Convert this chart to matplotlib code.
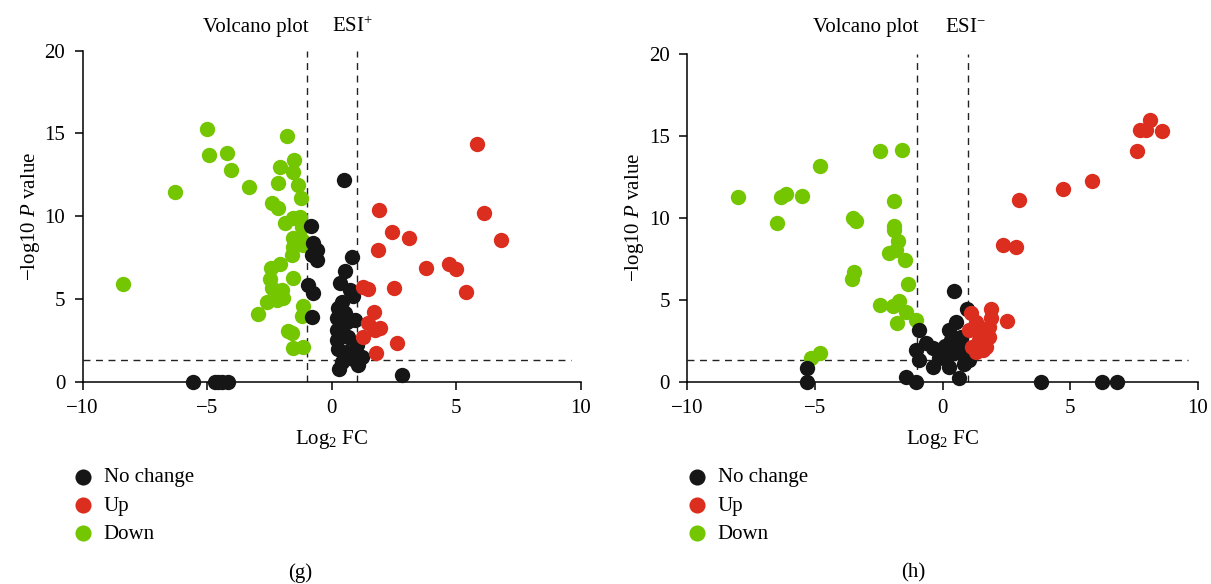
import matplotlib
matplotlib.use("Agg")
import matplotlib.pyplot as plt

plt.rcParams['font.family'] = ['Liberation Serif', 'DejaVu Serif']
plt.rcParams['mathtext.fontset'] = 'custom'
plt.rcParams['mathtext.rm'] = 'Liberation Serif'
plt.rcParams['mathtext.it'] = 'Liberation Serif:italic'
plt.rcParams['font.size'] = 15

# ---- (g) ESI+ ----
g_none_x = [-0.84, -0.74, -0.60, -0.80, -0.60, -0.94, -0.74, -0.80, 0.49, 0.80, 0.53, 0.33, 0.73,
            0.87, 0.40, 0.27, 0.53, 0.20, 0.94, 0.60, 0.20, 0.47, 0.67, 0.20, 1.00, 0.27, 0.60,
            1.20, 0.87, 1.07, 0.31, 2.81, -5.58, -4.69, -4.55, -4.42, -4.15, 0.40, 0.70]
g_none_y = [9.40, 8.36, 7.95, 7.65, 7.35, 5.84, 5.34, 3.93, 12.18, 7.51, 6.70, 5.98, 5.54,
            5.18, 4.83, 4.43, 4.13, 3.83, 3.73, 3.62, 3.12, 2.92, 2.72, 2.52, 2.22, 1.96, 1.81,
            1.51, 1.35, 1.01, 0.75, 0.38, 0, 0, 0, 0, 0, 1.20, 1.60]
g_up_x = [5.85, 1.90, 6.12, 2.43, 3.09, 6.80, 1.85, 3.78, 4.71, 4.98, 5.38, 2.51, 1.24, 1.47,
          1.71, 1.47, 1.94, 1.74, 1.27, 2.61, 1.78]
g_up_y = [14.34, 10.37, 10.21, 9.06, 8.70, 8.54, 7.97, 6.88, 7.11, 6.79, 5.40, 5.68, 5.70, 5.60,
          4.23, 3.53, 3.22, 3.12, 2.68, 2.36, 1.71]
g_down_x = [-5.02, -4.92, -4.22, -4.04, -1.81, -6.29, -3.31, -8.39, -2.08, -1.50, -1.57, -2.14,
            -1.34, -1.25, -2.41, -2.14, -1.88, -1.54, -1.27, -1.20, -1.54, -1.20, -1.54, -1.14,
            -1.61, -2.08, -2.45, -2.48, -2.41, -2.01, -1.54, -1.94, -2.21, -2.59, -2.95, -1.14,
            -1.20, -1.74, -1.61, -1.54, -1.16]
g_down_y = [15.24, 13.69, 13.83, 12.78, 14.84, 11.44, 11.78, 5.90, 12.98, 13.39, 12.68, 12.02,
            11.88, 11.11, 10.77, 10.47, 9.60, 9.87, 9.96, 9.36, 8.66, 8.56, 8.15, 8.25,
            7.65, 7.11, 6.85, 6.18, 5.64, 5.54, 6.28, 5.04, 4.93, 4.79, 4.07, 4.57,
            3.97, 3.06, 2.92, 2.05, 2.08]

# ---- (h) ESI- ----
h_none_x = [-5.32, -5.32, -1.43, -1.04, -0.91, 0.46, -1.04, -0.65, -0.39, -0.91, -0.39, -0.13,
            0.26, 0.52, 0.65, 0.94, 0.33, 0.72, 0.46, 0.78, 1.04, 0.13, 0.26, 3.87, 6.26, 6.85,
            0.10, 0.60, 0.85]
h_none_y = [0.86, 0, 0.31, 0, 3.16, 5.56, 1.94, 2.35, 2.04, 1.33, 0.92, 1.43,
            3.16, 3.67, 0.21, 4.43, 2.55, 2.75, 1.74, 1.83, 1.33, 1.43, 0.92, 0, 0, 0,
            2.20, 2.30, 1.10]
h_up_x = [8.13, 7.74, 7.96, 8.59, 7.63, 5.87, 4.70, 3.00, 2.38, 2.87, 2.54, 1.11, 1.89, 1.31,
          1.89, 1.04, 1.44, 1.83, 1.17, 1.70, 1.83, 1.44, 1.57, 1.31]
h_up_y = [16.00, 15.39, 15.39, 15.29, 14.07, 12.27, 11.79, 11.11, 8.32, 8.20, 3.73, 4.18, 4.45,
          3.67, 3.88, 3.16, 3.16, 3.36, 2.14, 2.14, 2.72, 2.55, 1.94, 1.83]
h_down_x = [-8.02, -6.50, -6.33, -6.13, -5.50, -4.80, -3.52, -3.39, -3.46, -3.55, -2.45, -1.57,
            -1.89, -1.89, -1.89, -1.76, -2.09, -1.82, -1.46, -1.35, -2.45, -1.93, -1.69, -1.43,
            -1.04, -1.80, -5.15, -4.80]
h_down_y = [11.28, 9.70, 11.28, 11.43, 11.34, 13.17, 10.02, 9.82, 6.71, 6.24, 14.09, 14.17,
            11.02, 9.48, 9.23, 8.56, 7.85, 8.05, 7.44, 5.97, 4.69, 4.65, 4.95, 4.28,
            3.77, 3.57, 1.43, 1.77]

labels = ["No change", "Up", "Down"]
colors = ["#161616", "#dc2e1f", "#74c600"]
xticks = [-10, -5, 0, 5, 10]
yticks = [0, 5, 10, 15, 20]
fc_cut = 1
p_cut = 1.3

fig = plt.figure(figsize=(12.11, 5.84), dpi=100)


def volcano(ax, none, up, down, ion, tag, tx):
    s = 122
    ax.scatter(down[0], down[1], s=s, c=colors[2], lw=0, clip_on=False, zorder=3, label=labels[2])
    ax.scatter(none[0], none[1], s=s, c=colors[0], lw=0, clip_on=False, zorder=4, label=labels[0])
    ax.scatter(up[0], up[1], s=s, c=colors[1], lw=0, clip_on=False, zorder=5, label=labels[1])
    ax.axvline(-fc_cut, color="#222222", ls=(0, (5, 4)), lw=1)
    ax.axvline(fc_cut, color="#222222", ls=(0, (5, 4)), lw=1)
    ax.plot([-10, 9.6], [p_cut, p_cut], color="#222222", ls=(0, (5, 4)), lw=1)
    ax.set_xlim(-10, 10)
    ax.set_ylim(0, 20)
    ax.set_xticks(xticks)
    ax.set_yticks(yticks)
    for sp in ["top", "right"]:
        ax.spines[sp].set_visible(False)
    ax.spines["left"].set_linewidth(1.1)
    ax.spines["bottom"].set_linewidth(1.1)
    ax.tick_params(direction="out", length=5.5, width=1.1, labelsize=15, pad=7)
    ax.set_xlabel("Log$_2$ FC", fontsize=15, labelpad=7)
    ax.set_ylabel("\u2212log10 $\\it{P}$ value", fontsize=15, labelpad=2)
    h, l = ax.get_legend_handles_labels()
    order = [1, 2, 0]
    ax.legend([h[i] for i in order], [l[i] for i in order], loc="upper left",
              bbox_to_anchor=(tx[2], 0.217), bbox_transform=fig.transFigure,
              frameon=False, borderpad=0, handlelength=1.0, handletextpad=0.5,
              labelspacing=0.42, fontsize=15, markerscale=1.05)
    fig.text(tx[0], 0.953, "Volcano plot", ha="center", va="center", fontsize=15)
    fig.text(tx[1], 0.953, "ESI$^{" + ion + "}$", ha="center", va="center", fontsize=15)
    fig.text(tx[3], 0.019, tag, ha="center", va="center", fontsize=15)


ax1 = fig.add_axes([0.0683, 0.3464, 0.4112, 0.5671])
volcano(ax1, (g_none_x, g_none_y), (g_up_x, g_up_y), (g_down_x, g_down_y), "+", "(g)",
        (256 / 1211, 353 / 1211, 62 / 1211, 300 / 1211))
ax2 = fig.add_axes([0.5675, 0.3464, 0.4217, 0.5611])
volcano(ax2, (h_none_x, h_none_y), (h_up_x, h_up_y), (h_down_x, h_down_y), "\u2212", "(h)",
        (866 / 1211, 966 / 1211, 676 / 1211, 913 / 1211))

fig.savefig("out.png", dpi=100)
